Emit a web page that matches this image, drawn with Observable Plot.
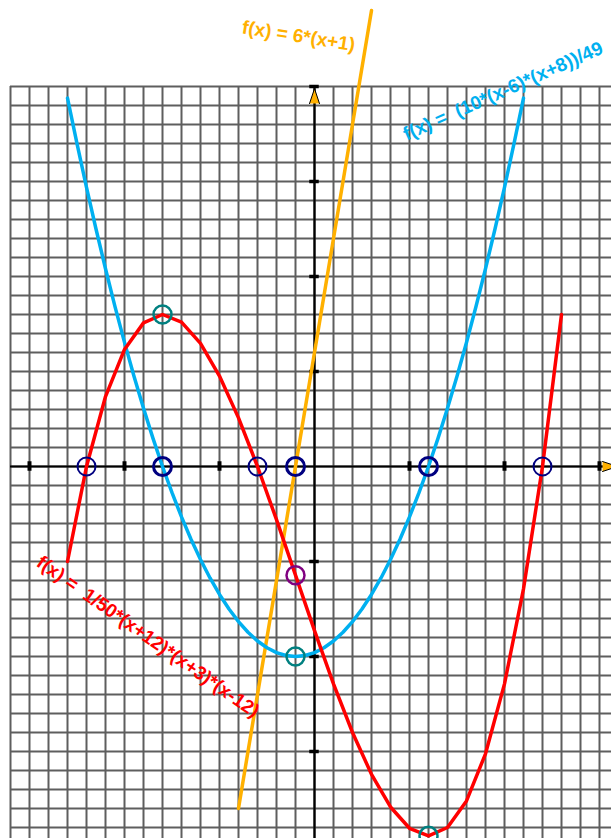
<!DOCTYPE html>
<html>
<head>
<meta charset="utf-8">
<script src="https://cdn.jsdelivr.net/npm/d3@7"></script>
<script src="https://cdn.jsdelivr.net/npm/@observablehq/plot@0.6"></script>
<style>
  html, body { margin: 0; padding: 0; background: #fff; overflow: hidden; }
  #chart svg { display: block; }
</style>
</head>
<body>
<div id="chart"></div>
<script>
// Red cubic f(x) = 1/50*(x+12)*(x+3)*(x-12), sampled at whole x from -13 to 13
const redX = [-13,-12,-11,-10,-9,-8,-7,-6,-5,-4,-3,-2,-1,0,1,2,3,4,5,6,7,8,9,10,11,12,13];
const redY = [-5,0,3.68,6.16,7.56,8,7.6,6.48,4.76,2.56,0,-2.8,-5.72,-8.64,-11.44,-14,-16.2,-17.92,-19.04,-19.44,-19,-17.6,-15.12,-11.44,-6.44,0,8];

// Blue parabola f(x) = (10*(x-6)*(x+8))/49, sampled every half unit from -13 to 11
const blueX = [-13,-12.5,-12,-11.5,-11,-10.5,-10,-9.5,-9,-8.5,-8,-7.5,-7,-6.5,-6,-5.5,-5,-4.5,-4,-3.5,-3,-2.5,-2,-1.5,-1,-0.5,0,0.5,1,1.5,2,2.5,3,3.5,4,4.5,5,5.5,6,6.5,7,7.5,8,8.5,9,9.5,10,10.5,11];
const blueY = [19.388,16.990,14.694,12.5,10.408,8.418,6.531,4.745,3.061,1.480,0,-1.378,-2.653,-3.827,-4.898,-5.867,-6.735,-7.5,-8.163,-8.724,-9.184,-9.541,-9.796,-9.949,-10,-9.949,-9.796,-9.541,-9.184,-8.724,-8.163,-7.5,-6.735,-5.867,-4.898,-3.827,-2.653,-1.378,0,1.480,3.061,4.745,6.531,8.418,10.408,12.5,14.694,16.990,19.388];

// Orange line f(x) = 6*(x+1)
const orangeX = [-4, 3];
const orangeY = [-18, 24];

// Marked points
const redRootsX = [-12, -3, 12];
const otherRootsX = [-8, -1, 6];          // blue roots and orange root
const extremaX = [-8, -1, 6];
const extremaY = [8, -10, -19.44];
const purpleX = [-1];
const purpleY = [-5.72];

// Axis tick positions
const xTicks = [-15, -10, -5, 5, 10, 15];
const yTicks = [-15, -10, -5, 5, 10, 15, 20];

// Grid (one line per unit)
const gridX = [-16,-15,-14,-13,-12,-11,-10,-9,-8,-7,-6,-5,-4,-3,-2,-1,0,1,2,3,4,5,6,7,8,9,10,11,12,13,14,15,16];
const gridY = [-20,-19,-18,-17,-16,-15,-14,-13,-12,-11,-10,-9,-8,-7,-6,-5,-4,-3,-2,-1,0,1,2,3,4,5,6,7,8,9,10,11,12,13,14,15,16,17,18,19,20];

// Labels
const labelText = ["f(x) = 6*(x+1)", "f(x) =  (10*(x-6)*(x+8))/49", "f(x) =  1/50*(x+12)*(x+3)*(x-12)"];
const labelX = [-3.85, 4.85, -14.7];
const labelY = [22.8, 17.15, -5.2];
const labelAngle = [9, -24, 35];
const labelColor = ["#ffb000", "#00b0f0", "#ff0000"];

const W = 611, H = 838, U = 19, OX = 314, OY = 466;

const red = redX.map((x, i) => ({x, y: redY[i]}));
const blue = blueX.map((x, i) => ({x, y: blueY[i]}));
const orange = orangeX.map((x, i) => ({x, y: orangeY[i]}));
const extrema = extremaX.map((x, i) => ({x, y: extremaY[i]}));
const purple = purpleX.map((x, i) => ({x, y: purpleY[i]}));
const labels = labelText.map((t, i) => ({t, x: labelX[i], y: labelY[i], a: labelAngle[i], c: labelColor[i]}));

const font = "'Liberation Sans', Arial, Helvetica, sans-serif";

const chart = Plot.plot({
  width: W,
  height: H,
  margin: 0,
  x: {domain: [-OX / U, (W - OX) / U], axis: null},
  y: {domain: [-(H - OY) / U, OY / U], axis: null},
  style: {background: "#fff", overflow: "hidden"},
  marks: [
    Plot.ruleX(gridX, {x: d => d, y1: -20, y2: 20, stroke: "#5e5e5e", strokeWidth: 2}),
    Plot.ruleY(gridY, {y: d => d, x1: -16, x2: 16, stroke: "#5e5e5e", strokeWidth: 2}),
    Plot.ruleY([0], {x1: -16, x2: 16, stroke: "#000", strokeWidth: 2.2}),
    Plot.ruleX([0], {y1: -20, y2: 20, stroke: "#000", strokeWidth: 2.2}),
    Plot.ruleX(xTicks, {x: d => d, y1: -0.25, y2: 0.25, stroke: "#000", strokeWidth: 4}),
    Plot.ruleY(yTicks, {y: d => d, x1: -0.25, x2: 0.25, stroke: "#000", strokeWidth: 3.5}),
    Plot.vector([{x: 0, y: 19.1}], {x: "x", y: "y", length: 15, r: 5, rotate: 0, anchor: "start", shape: "spike", fill: "#ffb000", stroke: "#000", strokeWidth: 1}),
    Plot.vector([{x: 15.16, y: 0}], {x: "x", y: "y", length: 15, r: 5, rotate: 90, anchor: "start", shape: "spike", fill: "#ffb000", stroke: "#000", strokeWidth: 1}),
    Plot.line(orange, {x: "x", y: "y", stroke: "#ffb000", strokeWidth: 3.5}),
    Plot.line(blue, {x: "x", y: "y", stroke: "#00b0f0", strokeWidth: 3.5}),
    Plot.line(red, {x: "x", y: "y", stroke: "#ff0000", strokeWidth: 3.5}),
    Plot.dot(redRootsX, {x: d => d, y: 0, r: 9, fill: "none", stroke: "#000080", strokeWidth: 2}),
    Plot.dot(otherRootsX, {x: d => d, y: 0, r: 9, fill: "none", stroke: "#000080", strokeWidth: 3}),
    Plot.dot(extrema, {x: "x", y: "y", r: 9, fill: "none", stroke: "#008080", strokeWidth: 2.5}),
    Plot.dot(purple, {x: "x", y: "y", r: 9, fill: "none", stroke: "#800080", strokeWidth: 2.5}),
    Plot.text(labels, {x: "x", y: "y", text: "t", rotate: "a", fill: "c", textAnchor: "start", lineAnchor: "bottom",
      fontSize: 19, fontWeight: "bold", fontFamily: font})
  ]
});
document.getElementById("chart").appendChild(chart);
</script>
</body>
</html>
